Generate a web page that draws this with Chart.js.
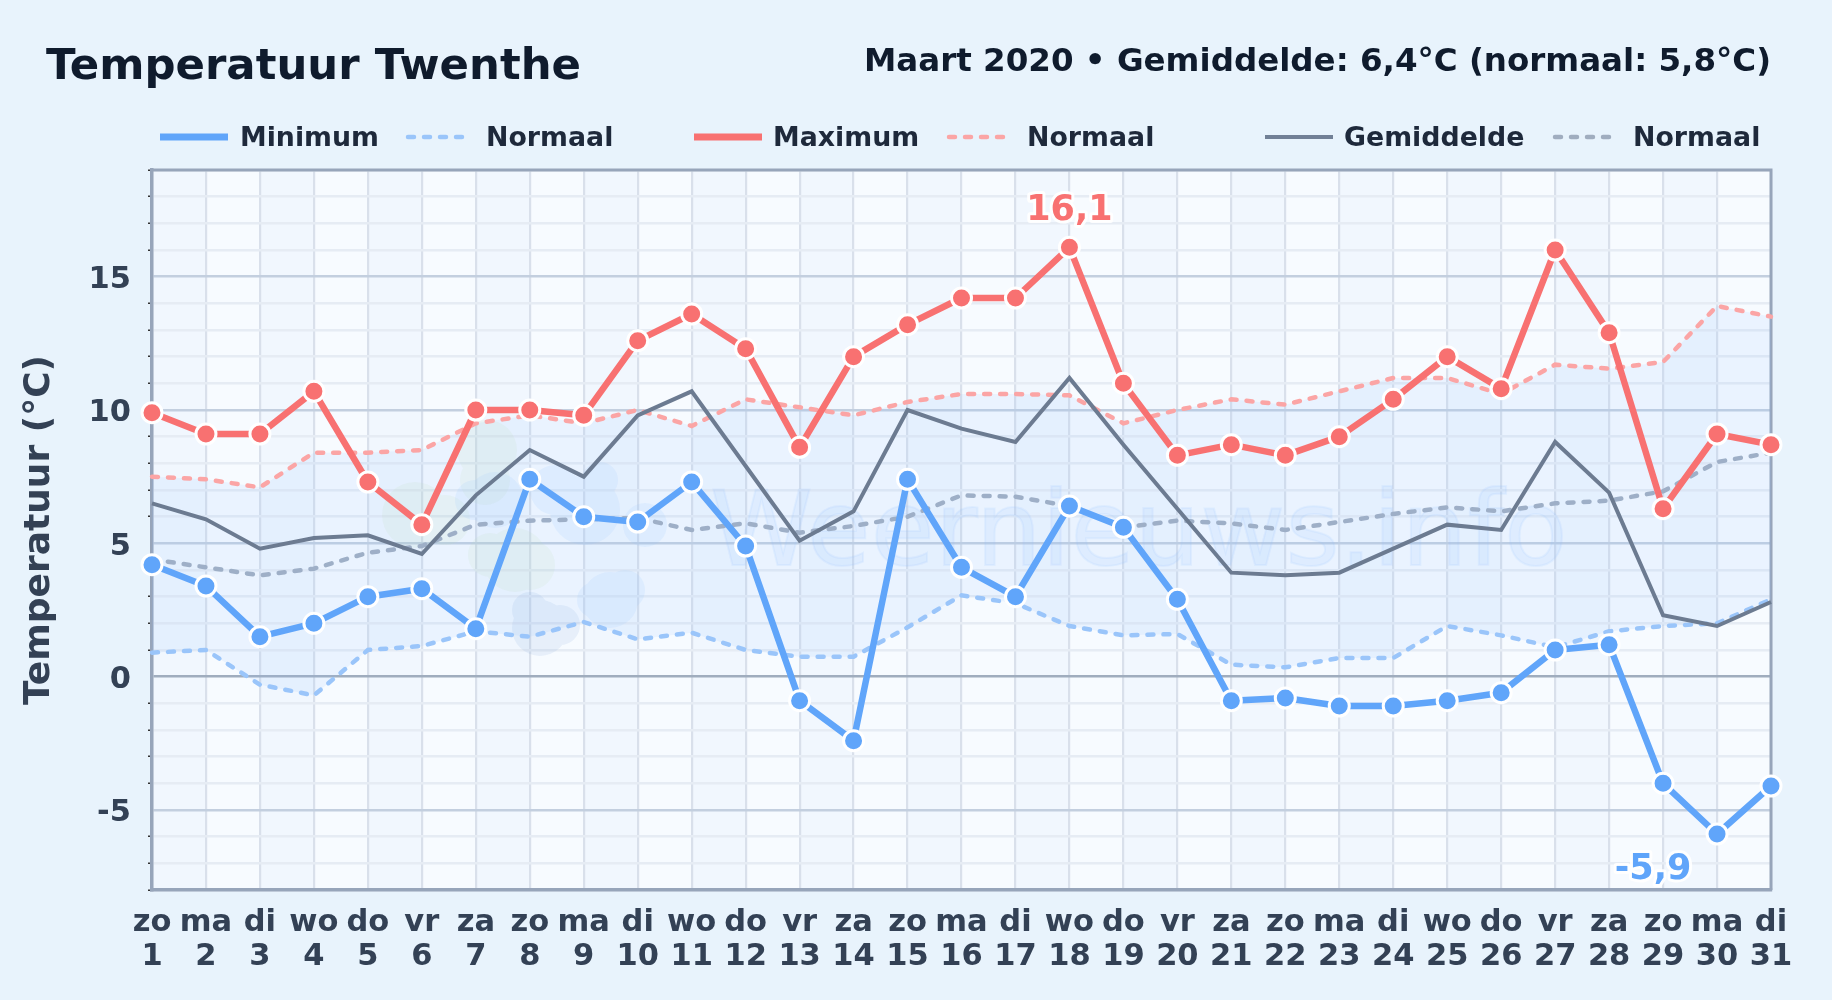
<!DOCTYPE html>
<html>
<head>
<meta charset="utf-8">
<title>Temperatuur Twenthe</title>
<script src="https://cdn.jsdelivr.net/npm/chart.js@4"></script>
<style>
  html, body { margin: 0; padding: 0; background: #e8f3fc; }
  #wrap { width: 1832px; height: 1000px; }
</style>
</head>
<body>
<div id="wrap"><canvas id="tempChart" width="1832" height="1000"></canvas></div>
<script>
var dayNames = ['zo','ma','di','wo','do','vr','za','zo','ma','di','wo','do','vr','za','zo','ma','di','wo','do','vr','za','zo','ma','di','wo','do','vr','za','zo','ma','di'];
var dayNumbers = ['1','2','3','4','5','6','7','8','9','10','11','12','13','14','15','16','17','18','19','20','21','22','23','24','25','26','27','28','29','30','31'];

var minTemp = [4.2,3.4,1.5,2.0,3.0,3.3,1.8,7.4,6.0,5.8,7.3,4.9,-0.9,-2.4,7.4,4.1,3.0,6.4,5.6,2.9,-0.9,-0.8,-1.1,-1.1,-0.9,-0.6,1.0,1.2,-4.0,-5.9,-4.1];
var maxTemp = [9.9,9.1,9.1,10.7,7.3,5.7,10.0,10.0,9.8,12.6,13.6,12.3,8.6,12.0,13.2,14.2,14.2,16.1,11.0,8.3,8.7,8.3,9.0,10.4,12.0,10.8,16.0,12.9,6.3,9.1,8.7];
var avgTemp = [6.5,5.9,4.8,5.2,5.3,4.6,6.8,8.5,7.5,9.8,10.7,7.9,5.1,6.2,10.0,9.3,8.8,11.2,8.7,6.3,3.9,3.8,3.9,4.8,5.7,5.5,8.8,6.9,2.3,1.9,2.8];
var normalMin = [0.9,1.0,-0.3,-0.7,1.0,1.15,1.7,1.5,2.05,1.4,1.65,1.0,0.75,0.75,1.85,3.05,2.75,1.9,1.55,1.6,0.45,0.35,0.7,0.7,1.9,1.55,1.1,1.7,1.9,2.0,2.9];
var normalMax = [7.5,7.4,7.1,8.4,8.4,8.5,9.5,9.8,9.5,10.0,9.4,10.4,10.1,9.8,10.3,10.6,10.6,10.55,9.5,10.0,10.4,10.2,10.7,11.2,11.2,10.6,11.7,11.55,11.8,13.9,13.5];
var normalAvg = [4.4,4.1,3.8,4.05,4.65,4.9,5.7,5.85,5.9,5.95,5.5,5.75,5.4,5.65,6.0,6.8,6.75,6.4,5.6,5.85,5.75,5.5,5.8,6.1,6.35,6.2,6.5,6.6,6.95,8.05,8.4];

var fontFamily = '"DejaVu Sans", sans-serif';
var borderColor = '#97a5ba';

// legend is laid out by hand because the groups have uneven gaps
var legendItems = [
  { text: 'Minimum',    color: '#60a5fa', x1: 160,  x2: 228,  textX: 240,  width: 7, dash: [] },
  { text: 'Normaal',    color: '#9ac5fa', x1: 408,  x2: 465,  textX: 486,  width: 4.5, dash: [6, 10] },
  { text: 'Maximum',    color: '#f87171', x1: 694,  x2: 762,  textX: 773,  width: 7, dash: [] },
  { text: 'Normaal',    color: '#fba5a5', x1: 949,  x2: 1006, textX: 1027, width: 4.5, dash: [6, 10] },
  { text: 'Gemiddelde', color: '#718096', x1: 1265, x2: 1333, textX: 1344, width: 4, dash: [] },
  { text: 'Normaal',    color: '#a0adbf', x1: 1555, x2: 1618, textX: 1633, width: 4.5, dash: [6, 10] }
];

function blobs(c, list) {
  c.beginPath();
  list.forEach(function (b) {
    c.moveTo(b[0] + b[2], b[1]);
    c.arc(b[0], b[1], b[2], 0, Math.PI * 2);
  });
  c.fill();
}

var backdrop = {
  id: 'backdrop',
  beforeDraw: function (chart) {
    var c = chart.ctx, a = chart.chartArea, xs = chart.scales.x;
    c.save();
    c.fillStyle = '#f7fbff';
    c.fillRect(a.left, a.top, a.width, a.height);
    c.fillStyle = 'rgba(205,228,248,0.14)';
    for (var i = 0; i < 30; i += 2) {
      c.fillRect(xs.getPixelForValue(i), a.top, xs.getPixelForValue(i + 1) - xs.getPixelForValue(i), a.height);
    }
    c.restore();
    // canvas middle baseline sits a little high compared with the reference
    if (!chart.$labelsShifted) {
      chart.scales.y.getLabelItems().forEach(function (item) { item.textOffset += 3.5; });
      chart.$labelsShifted = true;
    }
  },
  beforeDatasetsDraw: function (chart) {
    // faded weernieuws logo and name behind the lines
    var c = chart.ctx, a = chart.chartArea;
    c.save();
    c.fillStyle = 'rgba(190,225,170,0.13)';
    blobs(c, [[415,515,33],[445,520,25],[487,450,30],[485,480,25]]);
    blobs(c, [[515,560,32],[490,555,22],[530,565,25]]);
    c.fillStyle = 'rgba(147,197,253,0.14)';
    blobs(c, [[495,500,28],[475,500,20]]);
    blobs(c, [[555,490,25],[585,510,35],[600,480,18]]);
    blobs(c, [[610,600,28],[595,600,18],[625,590,20]]);
    blobs(c, [[645,525,22]]);
    c.fillStyle = 'rgba(125,165,215,0.13)';
    blobs(c, [[540,628,28],[560,625,20],[530,610,18]]);
    c.fillStyle = 'rgba(147,197,253,0.13)';
    c.strokeStyle = 'rgba(147,197,253,0.13)';
    c.lineWidth = 2;
    c.font = '104px ' + fontFamily;
    c.textBaseline = 'alphabetic';
    c.textAlign = 'left';
    c.fillText('Weernieuws.info', 710, 565);
    c.strokeText('Weernieuws.info', 710, 565);

    // frame on top and right, left and bottom come from the scales
    c.strokeStyle = borderColor;
    c.lineWidth = 3;
    c.beginPath();
    c.moveTo(a.left, a.top);
    c.lineTo(a.right, a.top);
    c.lineTo(a.right, a.bottom);
    c.stroke();
    c.restore();
  },
  afterDraw: function (chart) {
    var c = chart.ctx, xs = chart.scales.x, ys = chart.scales.y;
    c.save();
    c.textBaseline = 'alphabetic';
    c.fillStyle = '#0f1b2d';
    c.font = 'bold 43.4px ' + fontFamily;
    c.textAlign = 'left';
    c.fillText('Temperatuur Twenthe', 46, 79);
    c.font = 'bold 32.5px ' + fontFamily;
    c.textAlign = 'right';
    c.fillText('Maart 2020 \u2022 Gemiddelde: 6,4\u00b0C (normaal: 5,8\u00b0C)', 1771, 71);

    c.font = 'bold 26.8px ' + fontFamily;
    c.textAlign = 'left';
    c.textBaseline = 'middle';
    legendItems.forEach(function (it) {
      c.beginPath();
      c.strokeStyle = it.color;
      c.lineWidth = it.width;
      c.lineCap = it.dash.length ? 'round' : 'butt';
      c.setLineDash(it.dash);
      c.moveTo(it.x1, 137);
      c.lineTo(it.x2, 137);
      c.stroke();
      c.setLineDash([]);
      c.fillStyle = '#1e293b';
      c.fillText(it.text, it.textX, 139.5);
    });

    // labels for the highest and lowest value of the month
    c.font = 'bold 35px ' + fontFamily;
    c.textAlign = 'center';
    c.lineJoin = 'round';
    var hi = maxTemp.indexOf(Math.max.apply(null, maxTemp));
    var lo = minTemp.indexOf(Math.min.apply(null, minTemp));
    [
      { text: '16,1', color: '#f87171', x: xs.getPixelForValue(hi), y: ys.getPixelForValue(maxTemp[hi]) - 36 },
      { text: '-5,9', color: '#60a5fa', x: xs.getPixelForValue(lo) - 64, y: ys.getPixelForValue(minTemp[lo]) + 36 }
    ].forEach(function (l) {
      c.strokeStyle = 'rgba(255,255,255,0.9)';
      c.lineWidth = 6;
      c.strokeText(l.text, l.x, l.y);
      c.fillStyle = l.color;
      c.fillText(l.text, l.x, l.y);
    });
    c.restore();
  }
};

function lineSet(label, data, color, width, extra) {
  return Object.assign({
    label: label,
    data: data,
    borderColor: color,
    backgroundColor: color,
    borderWidth: width,
    lineTension: 0,
    pointRadius: 0,
    fill: false,
    clip: false
  }, extra || {});
}

var markers = { pointRadius: 10, pointBorderColor: '#ffffff', pointBorderWidth: 3, borderJoinStyle: 'round' };
var dashed = { borderDash: [6, 10], borderCapStyle: 'round' };

var ctx = document.getElementById('tempChart');
new Chart(ctx, {
  type: 'line',
  data: {
    labels: dayNames.map(function (d, i) { return [d, dayNumbers[i]]; }),
    datasets: [
      lineSet('Minimum', minTemp, '#60a5fa', 6.5, Object.assign({}, markers, { pointBackgroundColor: '#60a5fa', order: 1 })),
      lineSet('Maximum', maxTemp, '#f87171', 6.5, Object.assign({}, markers, { pointBackgroundColor: '#f87171', order: 2 })),
      lineSet('Gemiddelde', avgTemp, '#6c7b91', 4, { order: 3 }),
      lineSet('Normaal min', normalMin, '#9ac5fa', 4.5, Object.assign({}, dashed, { order: 4 })),
      lineSet('Normaal max', normalMax, '#fba5a5', 4.5, Object.assign({}, dashed, { order: 5, fill: '-1', backgroundColor: 'rgba(147,197,253,0.13)' })),
      lineSet('Normaal gem', normalAvg, '#a0adbf', 4.5, Object.assign({}, dashed, { order: 6 }))
    ]
  },
  options: {
    responsive: false,
    animation: false,
    layout: { padding: { left: 0, right: 61, top: 170, bottom: 0 } },
    plugins: { legend: { display: false }, title: { display: false }, tooltip: { enabled: false } },
    scales: {
      x: {
        type: 'category',
        offset: false,
        afterFit: function (s) { s.height = 110; },
        border: { color: borderColor, width: 3.5 },
        grid: { color: '#d9e0eb', lineWidth: 2.2, drawTicks: false },
        ticks: {
          color: '#334155',
          autoSkip: false,
          maxRotation: 0,
          padding: 16,
          font: { family: fontFamily, size: 30.5, weight: 'bold', lineHeight: 1.115 }
        }
      },
      y: {
        min: -8,
        max: 19,
        afterFit: function (s) { s.width = 152; },
        border: { color: borderColor, width: 3.5 },
        grid: {
          lineWidth: 2.5,
          tickLength: 4,
          tickWidth: 1.5,
          tickColor: function (c) { return c.tick.value % 5 === 0 ? 'transparent' : '#333333'; },
          color: function (c) {
            if (c.tick.value === 0) return '#a0adbe';
            return c.tick.value % 5 === 0 ? '#c3cfdf' : '#e6ecf4';
          }
        },
        ticks: {
          stepSize: 1,
          autoSkip: false,
          color: '#334155',
          padding: 17,
          font: { family: fontFamily, size: 30.5, weight: 'bold' },
          callback: function (v) { return v % 5 === 0 ? String(v) : ''; }
        },
        title: {
          display: true,
          text: 'Temperatuur (\u00b0C)',
          color: '#334155',
          padding: { top: 18, bottom: 0 },
          font: { family: fontFamily, size: 36, weight: 'bold' }
        }
      }
    }
  },
  plugins: [backdrop]
});
</script>
</body>
</html>
